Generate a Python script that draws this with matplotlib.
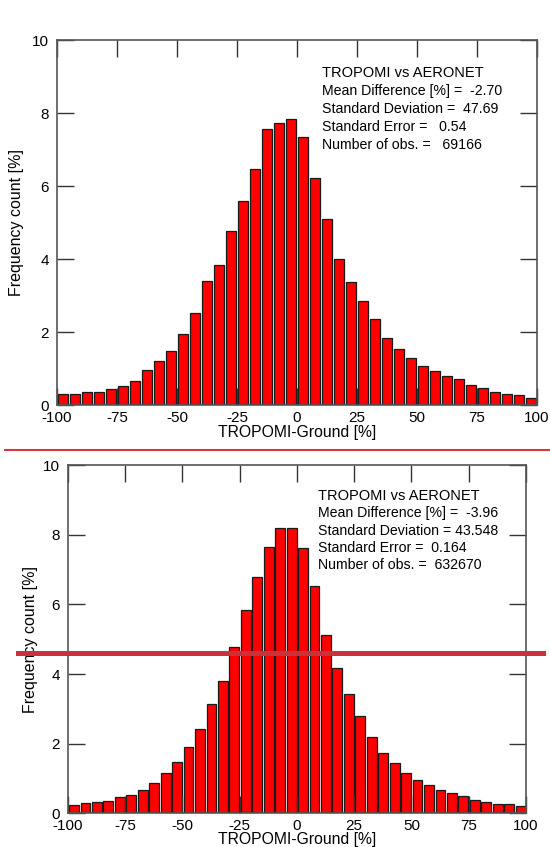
import matplotlib
matplotlib.use('Agg')
import matplotlib.pyplot as plt
from matplotlib.lines import Line2D
import numpy as np

plt.rcParams['font.family'] = ['Liberation Sans', 'DejaVu Sans']
plt.rcParams['axes.unicode_minus'] = False

# bin left edges, 5 % wide, -100 .. 100
bin_left = np.arange(-100, 100, 5)

# upper panel histogram (frequency count, %)
freq_top = [0.30, 0.29, 0.36, 0.35, 0.44, 0.53, 0.66, 0.96, 1.20, 1.48,
            1.96, 2.51, 3.40, 3.84, 4.76, 5.59, 6.47, 7.56, 7.72, 7.83,
            7.35, 6.23, 5.10, 4.00, 3.38, 2.86, 2.37, 1.83, 1.53, 1.28,
            1.07, 0.93, 0.80, 0.71, 0.56, 0.47, 0.36, 0.31, 0.28, 0.20]

# lower panel histogram
freq_bot = [0.24, 0.29, 0.32, 0.35, 0.47, 0.53, 0.67, 0.87, 1.17, 1.48,
            1.90, 2.41, 3.13, 3.81, 4.77, 5.83, 6.80, 7.64, 8.21, 8.21,
            7.61, 6.53, 5.12, 4.17, 3.43, 2.80, 2.19, 1.74, 1.45, 1.17,
            0.96, 0.80, 0.67, 0.57, 0.49, 0.37, 0.32, 0.28, 0.26, 0.22]

stats_top = ['TROPOMI vs AERONET',
             'Mean Difference [%] =  -2.70',
             'Standard Deviation =  47.69',
             'Standard Error =   0.54',
             'Number of obs. =   69166']
stats_bot = ['TROPOMI vs AERONET',
             'Mean Difference [%] =  -3.96',
             'Standard Deviation = 43.548',
             'Standard Error =  0.164',
             'Number of obs. =  632670']

xticks = [-100, -75, -50, -25, 0, 25, 50, 75, 100]
yticks = [0, 2, 4, 6, 8, 10]

fig = plt.figure(figsize=(5.5, 8.47), dpi=100)
ax1 = fig.add_axes([0.1036, 0.5218, 0.8727, 0.4309])
ax2 = fig.add_axes([0.1236, 0.0398, 0.8327, 0.4109])


def draw_panel(ax, freq, stats, tx, ylab_x):
    ax.bar(bin_left + 0.5, freq, width=4.3, align='edge',
           color='#ff0000', edgecolor='#1a1a1a', linewidth=0.9)
    ax.set_xlim(-100, 100)
    ax.set_ylim(0, 10)
    ax.set_xticks(xticks)
    ax.set_yticks(yticks)
    ax.tick_params(direction='in', length=12, width=1.0, color='#333333',
                   top=True, right=True, labelsize=11, pad=4)
    ax.tick_params(axis='y', pad=6)
    for s in ax.spines.values():
        s.set_color('#555555')
        s.set_linewidth(1.2)
    ax.set_xlabel('TROPOMI-Ground [%]', fontsize=11.3)
    ax.set_ylabel('Frequency count [%]', fontsize=11.5)
    ax.xaxis.set_label_coords(0.5, -0.055)
    ax.yaxis.set_label_coords(ylab_x, 0.5)
    ax.text(tx, 0.900, stats[0], transform=ax.transAxes, fontsize=10.5,
            va='baseline', ha='left')
    for i, line in enumerate(stats[1:]):
        ax.text(tx, 0.850 - 0.0495 * i, line, transform=ax.transAxes,
                fontsize=10.2, va='baseline', ha='left')


draw_panel(ax1, freq_top, stats_top, 0.5515, -0.069)
draw_panel(ax2, freq_bot, stats_bot, 0.5465, -0.066)

# red overlay lines
fig.add_artist(Line2D([0.009, 1.0], [0.4687, 0.4687], color='#d43a3a',
                      linewidth=1.5, transform=fig.transFigure))
fig.add_artist(Line2D([0.033, 0.987], [0.2285, 0.2285], color='#c8323a',
                      linewidth=3.6, transform=fig.transFigure))

fig.savefig('out.png', dpi=100)
